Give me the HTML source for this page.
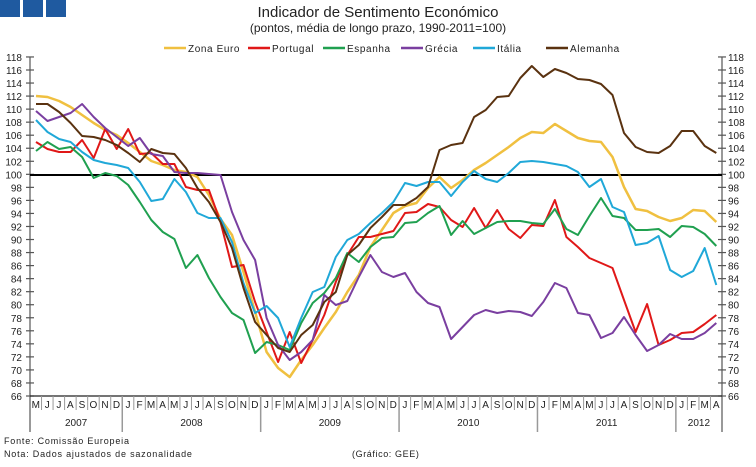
<!DOCTYPE html>
<html><head><meta charset="utf-8"><style>
body{margin:0;background:#fff;width:756px;height:462px;overflow:hidden}
svg text{font-family:"Liberation Sans",sans-serif}
</style></head><body>
<svg id="s" width="756" height="462" xmlns="http://www.w3.org/2000/svg">
<rect x="0" y="0" width="20" height="17" fill="#1f5aa0"/>
<rect x="23" y="0" width="20" height="17" fill="#1f5aa0"/>
<rect x="46" y="0" width="20" height="17" fill="#1f5aa0"/>
<text x="378" y="17" font-size="15" text-anchor="middle" fill="#222">Indicador de Sentimento Económico</text>
<text x="378" y="32" font-size="12" text-anchor="middle" fill="#222">(pontos, média de longo prazo, 1990-2011=100)</text>
<g id="g"></g>
</svg>
<script>
var s=document.getElementById('g'),h='';
function L(x1,y1,x2,y2,c,w){h+='<line x1="'+x1+'" y1="'+y1+'" x2="'+x2+'" y2="'+y2+'" stroke="'+c+'" stroke-width="'+w+'"/>';}
function T(x,y,t,a,sz,ex){h+='<text x="'+x+'" y="'+y+'" font-size="'+(sz||10)+'" text-anchor="'+(a||'start')+'" fill="#222" '+(ex||'')+'>'+t+'</text>';}
// legend
var lg=[["Zona Euro","#f0c040",188],["Portugal","#e01818",272],["Espanha","#20a050",347],["Grécia","#7a3fa0",425],["Itália","#20a8d8",497],["Alemanha","#5a3210",570]];
lg.forEach(function(l){L(l[2]-24,48,l[2]-2,48,l[1],2.5);T(l[2],52,l[0],'start',10,'letter-spacing="0.6"');});
// axes
function Y(v){return 396-(v-66)*6.52;}
L(30,57,30,432,'#999',2);L(722,57,722,432,'#999',2);
for(var v=66;v<=118;v+=2){var y=Y(v);L(26,y,34,y,'#555',1.2);L(718,y,726,y,'#555',1.2);T(22,y+4,v,'end');T(728,y+4,v,'start');}
L(30,396,722,396,'#222',1.2);
var st=692/60,m="MJJASONDJFMAMJJASONDJFMAMJJASONDJFMAMJJASONDJFMAMJJASONDJFMA";
for(var i=0;i<60;i++){T(30+(i+0.5)*st,408,m[i],'middle',10);if(i>0)L(30+i*st,396,30+i*st,410,'#999',1);}
[8,20,32,44,56].forEach(function(k){L(30+k*st,396,30+k*st,432,'#999',1.5);});
[["2007",0,8],["2008",8,20],["2009",20,32],["2010",32,44],["2011",44,56],["2012",56,60]].forEach(function(y){T(30+(y[1]+y[2])/2*st,426,y[0],'middle',10);});
L(30,175,722,175,'#000',2);
T(4,444,'Fonte: Comissão Europeia','start',9,'letter-spacing="0.8"');
T(4,457,'Nota: Dados ajustados de sazonalidade','start',9,'letter-spacing="0.8"');
T(352,457,'(Gráfico: GEE)','start',9,'letter-spacing="0.6"');
var D={
"#f0c040":[96,97,101,107,115,123,130,135,143,152,161,165,170,172,177,195,219,235,272,312,352,368,377,360,345,328,312,292,275,247,230,213,206,203,188,177,188,180,170,163,155,147,138,132,133,124,131,138,141,142,157,187,209,211,217,221,218,210,211,222],
"#e01818":[142,149,152,152,140,158,129,149,129,154,153,164,164,187,190,190,222,267,265,302,332,362,332,363,340,315,282,255,237,237,234,231,213,212,204,207,220,227,208,228,210,229,238,225,226,200,237,247,258,263,268,300,332,304,345,340,333,332,324,315],
"#20a050":[151,142,149,147,157,178,173,176,185,202,220,232,239,268,255,278,297,313,320,353,342,345,350,323,303,293,278,253,262,247,238,237,223,222,213,206,235,221,234,228,222,221,221,223,224,209,229,235,216,198,216,218,230,230,229,237,226,227,234,246],
"#7a3fa0":[111,121,117,113,104,117,128,137,146,138,154,156,172,173,173,174,175,212,240,260,318,345,360,352,340,295,305,301,277,255,272,277,273,292,303,307,339,327,315,310,313,311,312,316,302,283,288,313,315,338,333,317,335,351,345,334,339,339,333,323],
"#20a8d8":[120,132,139,142,152,160,163,165,168,182,201,199,179,192,213,218,218,242,283,313,306,318,347,318,292,287,257,240,234,223,213,202,183,186,182,182,196,182,171,179,182,173,162,161,162,164,166,172,187,179,207,212,245,243,236,270,277,271,248,285],
"#5a3210":[104,104,112,123,136,137,140,145,153,162,149,153,154,168,188,202,222,248,288,322,335,348,352,335,325,302,292,255,245,228,217,205,205,198,187,150,145,143,117,110,97,96,78,66,77,69,73,79,80,84,95,133,147,152,153,146,131,131,146,153]};
for(var c in D){var p=D[c].map(function(y,i){return (36+i*11.53).toFixed(1)+','+y;}).join(' ');
h+='<polyline points="'+p+'" fill="none" stroke="'+c+'" stroke-width="'+(c=="#f0c040"?2.5:2)+'" stroke-linejoin="round"/>';}
s.innerHTML=h;
</script>
</body></html>
